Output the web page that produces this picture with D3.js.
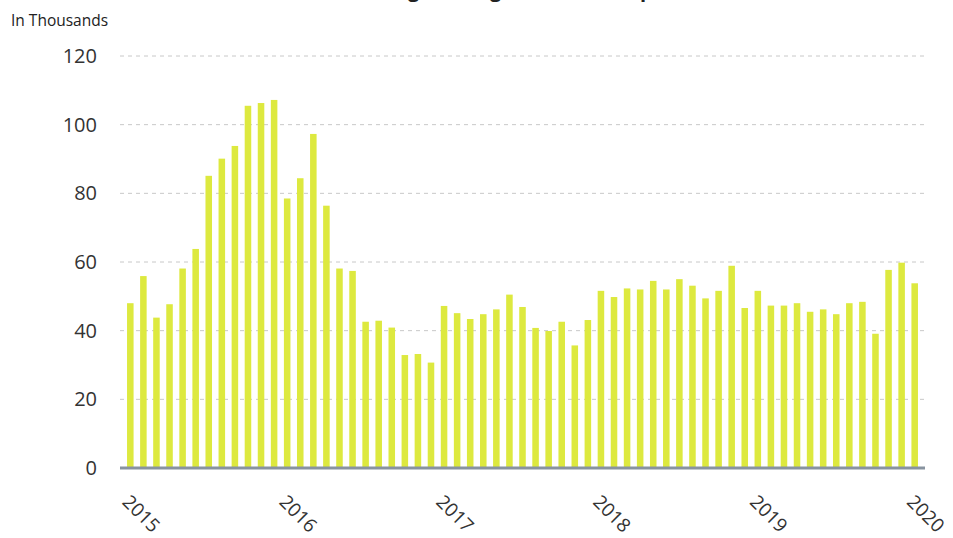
<!DOCTYPE html>
<meta charset="utf-8">
<style>
body { margin: 0; background: #fff; font-family: 'Open Sans', 'Noto Sans', sans-serif; }
.grid line { stroke: #c8c8c8; stroke-dasharray: 4,4; }
.ylab { font-size: 20px; fill: #333; }
.xlab { font-size: 19px; fill: #333; }
</style>
<script src="https://d3js.org/d3.v7.min.js"></script>
<div id="chart"></div>
<script>
// monthly values, Jan 2015 - Jan 2020 (thousands)
var values = [48.0, 55.9, 43.8, 47.7, 58.1, 63.8, 85.1, 90.1, 93.8, 105.5, 106.3, 107.2,
  78.5, 84.4, 97.3, 76.4, 58.1, 57.4, 42.6, 42.9, 40.9, 32.9, 33.2, 30.7,
  47.2, 45.1, 43.4, 44.8, 46.2, 50.5, 46.9, 40.8, 39.9, 42.6, 35.7, 43.1,
  51.6, 49.8, 52.3, 52.0, 54.5, 52.0, 55.0, 53.1, 49.4, 51.6, 58.9, 46.6,
  51.6, 47.3, 47.3, 48.0, 45.5, 46.2, 44.8, 48.0, 48.4, 39.1, 57.7, 59.8,
  53.8];
var months = values.map(function(v, i) { return i; });
var years = ["2015", "2016", "2017", "2018", "2019", "2020"];
var yTicks = [0, 20, 40, 60, 80, 100, 120];

var width = 953, height = 538;

var svg = d3.select("#chart").append("svg")
  .attr("width", width)
  .attr("height", height);

var x = d3.scaleBand()
  .domain(months)
  .range([120.5, 924.5])
  .padding(0.5);

var y = d3.scaleLinear()
  .domain([0, 120])
  .range([468, 56]);

// title (cut off at top, as in the original)
svg.append("text")
  .attr("x", 518)
  .attr("y", -3)
  .attr("text-anchor", "middle")
  .style("font-size", "20px")
  .style("font-weight", "bold")
  .style("fill", "#222")
  .text("Irregular Migration to Europe");

svg.append("text")
  .attr("x", 11)
  .attr("y", 26)
  .style("font-size", "15.5px")
  .style("fill", "#222")
  .text("In Thousands");

// gridlines
svg.append("g")
  .attr("class", "grid")
  .selectAll("line")
  .data(yTicks.filter(function(d) { return d > 0; }))
  .enter().append("line")
    .attr("x1", 120)
    .attr("x2", 925)
    .attr("y1", function(d) { return y(d); })
    .attr("y2", function(d) { return y(d); });

// y labels
svg.append("g")
  .selectAll("text")
  .data(yTicks)
  .enter().append("text")
    .attr("class", "ylab")
    .attr("x", 97)
    .attr("y", function(d) { return y(d); })
    .attr("dy", "0.35em")
    .attr("text-anchor", "end")
    .text(function(d) { return d; });

// bars
svg.append("g")
  .selectAll("rect")
  .data(values)
  .enter().append("rect")
    .attr("x", function(d, i) { return x(i); })
    .attr("y", function(d) { return y(d); })
    .attr("width", x.bandwidth())
    .attr("height", function(d) { return y(0) - y(d); })
    .style("fill", "#dde93f");

// baseline
svg.append("line")
  .attr("x1", 120)
  .attr("x2", 925)
  .attr("y1", y(0))
  .attr("y2", y(0))
  .style("stroke", "#8893a0")
  .style("stroke-width", 3);

// year labels
svg.append("g")
  .selectAll("text")
  .data(years)
  .enter().append("text")
    .attr("class", "xlab")
    .attr("transform", function(d, i) {
      var cx = x(i * 12) + x.bandwidth() / 2;
      return "translate(" + (cx - 9) + ",503) rotate(45)";
    })
    .attr("text-anchor", "start")
    .text(function(d) { return d; });
</script>
